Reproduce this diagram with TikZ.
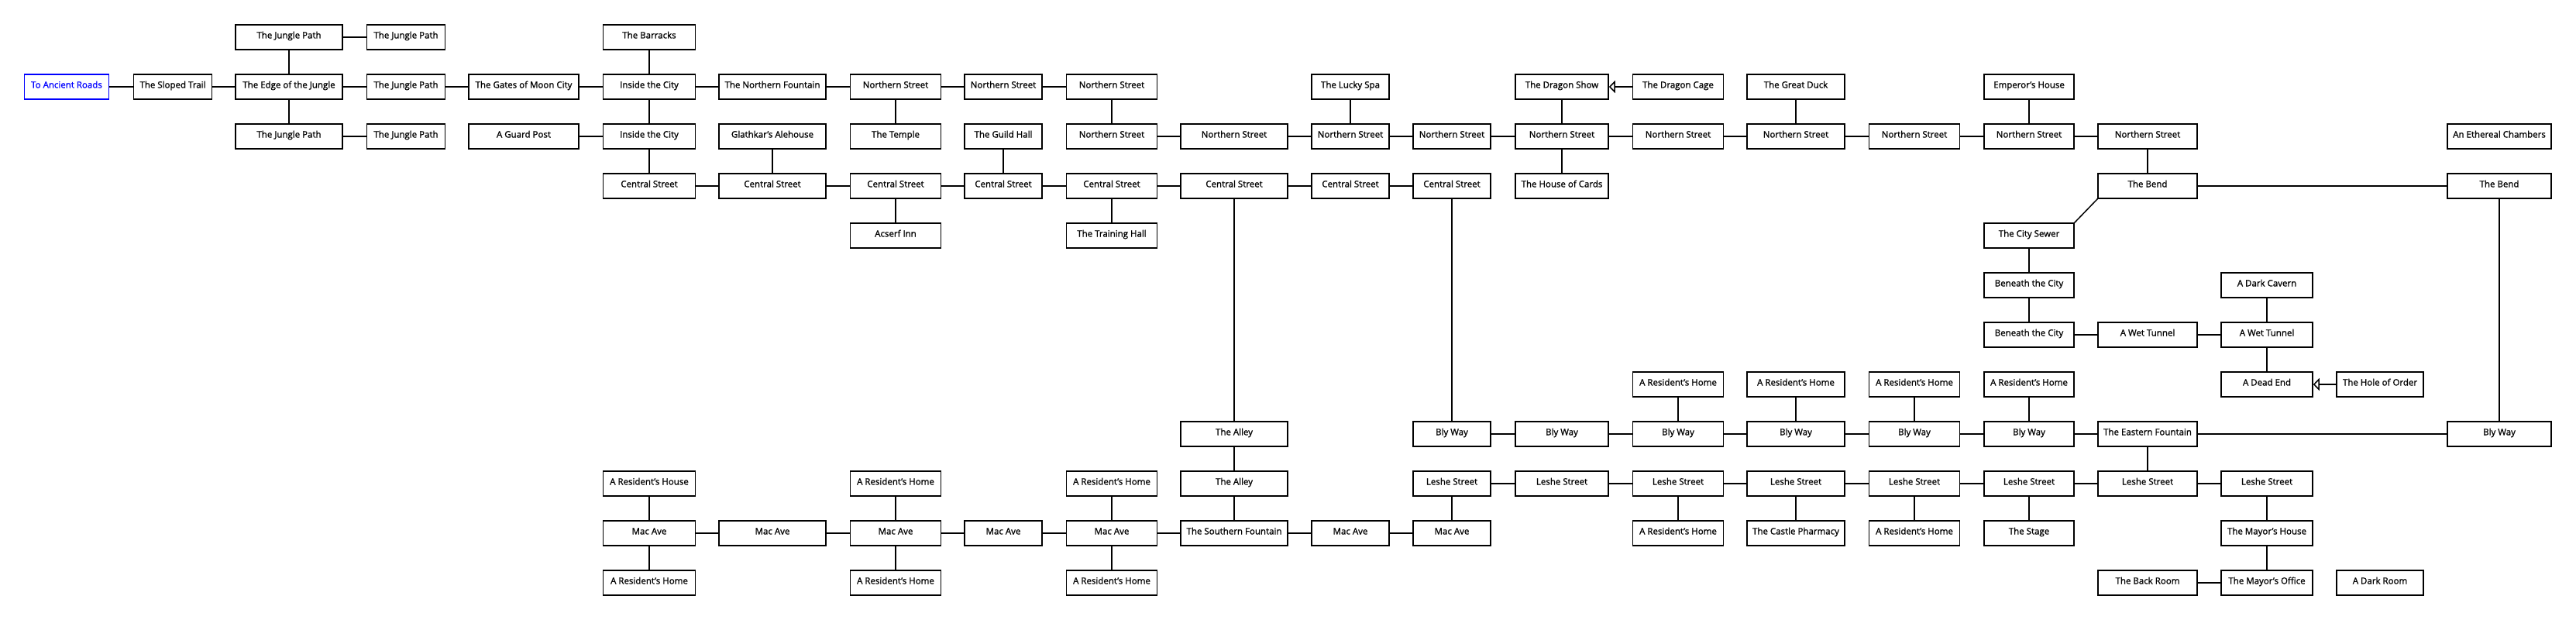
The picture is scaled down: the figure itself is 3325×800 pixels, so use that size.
\documentclass[tikz,border=0pt]{standalone}
\usepackage{fontspec}
\setmainfont{Open Sans}[FakeBold=1.2]
\usetikzlibrary{arrows.meta}

\begin{document}
\begin{tikzpicture}[x=1pt, y=-1pt, line width=1.5pt,
  room/.style={draw, minimum width=#1pt, minimum height=32pt, inner sep=0pt,
    text height=9pt, text depth=6pt, font=\fontsize{11.5}{13}\selectfont},
  exit/.style={room=#1, draw=blue, text=blue},
  oneway/.style={-{Triangle[open, length=8pt, width=16pt]}}]
  \useasboundingbox (0,0) rectangle (3325,800);

  \node[room=138] (jpA) at (373,48) {The Jungle Path};
  \node[room=101] (jpB) at (524,48) {The Jungle Path};
  \node[room=119] (barracks) at (838,48) {The Barracks};

  \node[exit=109] (ancient) at (86,112) {To Ancient Roads};
  \node[room=101] (sloped) at (223,112) {The Sloped Trail};
  \node[room=138] (edge) at (373,112) {The Edge of the Jungle};
  \node[room=101] (jpC) at (524,112) {The Jungle Path};
  \node[room=142] (gates) at (676,112) {The Gates of Moon City};
  \node[room=119] (insideA) at (838,112) {Inside the City};
  \node[room=138] (nfount) at (997,112) {The Northern Fountain};
  \node[room=117] (nsA) at (1156,112) {Northern Street};
  \node[room=100] (nsB) at (1295,112) {Northern Street};
  \node[room=117] (nsC) at (1435,112) {Northern Street};
  \node[room=100] (spa) at (1743,112) {The Lucky Spa};
  \node[room=120] (dshow) at (2016,112) {The Dragon Show};
  \node[room=117] (dcage) at (2166,112) {The Dragon Cage};
  \node[room=126] (duck) at (2318,112) {The Great Duck};
  \node[room=116] (emperor) at (2619,112) {Emperor's House};

  \node[room=138] (jpD) at (373,176) {The Jungle Path};
  \node[room=101] (jpE) at (524,176) {The Jungle Path};
  \node[room=142] (guard) at (676,176) {A Guard Post};
  \node[room=119] (insideB) at (838,176) {Inside the City};
  \node[room=138] (alehouse) at (997,176) {Glathkar's Alehouse};
  \node[room=117] (temple) at (1156,176) {The Temple};
  \node[room=100] (guild) at (1295,176) {The Guild Hall};
  \node[room=117] (nsD) at (1435,176) {Northern Street};
  \node[room=138] (nsE) at (1593,176) {Northern Street};
  \node[room=100] (nsF) at (1743,176) {Northern Street};
  \node[room=100] (nsG) at (1874,176) {Northern Street};
  \node[room=120] (nsH) at (2016,176) {Northern Street};
  \node[room=117] (nsI) at (2166,176) {Northern Street};
  \node[room=126] (nsJ) at (2318,176) {Northern Street};
  \node[room=117] (nsK) at (2471,176) {Northern Street};
  \node[room=116] (nsL) at (2619,176) {Northern Street};
  \node[room=128] (nsM) at (2772,176) {Northern Street};
  \node[room=134] (ethereal) at (3226,176) {An Ethereal Chambers};

  \node[room=119] (csA) at (838,240) {Central Street};
  \node[room=138] (csB) at (997,240) {Central Street};
  \node[room=117] (csC) at (1156,240) {Central Street};
  \node[room=100] (csD) at (1295,240) {Central Street};
  \node[room=117] (csE) at (1435,240) {Central Street};
  \node[room=138] (csF) at (1593,240) {Central Street};
  \node[room=100] (csG) at (1743,240) {Central Street};
  \node[room=100] (csH) at (1874,240) {Central Street};
  \node[room=120] (cards) at (2016,240) {The House of Cards};
  \node[room=128] (bendA) at (2772,240) {The Bend};
  \node[room=134] (bendB) at (3226,240) {The Bend};

  \node[room=117] (acserf) at (1156,304) {Acserf Inn};
  \node[room=117] (training) at (1435,304) {The Training Hall};
  \node[room=116] (sewer) at (2619,304) {The City Sewer};

  \node[room=116] (beneathA) at (2619,368) {Beneath the City};
  \node[room=118] (cavern) at (2926,368) {A Dark Cavern};

  \node[room=116] (beneathB) at (2619,432) {Beneath the City};
  \node[room=128] (tunnelA) at (2772,432) {A Wet Tunnel};
  \node[room=118] (tunnelB) at (2926,432) {A Wet Tunnel};

  \node[room=117] (homeA) at (2166,496) {A Resident's Home};
  \node[room=126] (homeB) at (2318,496) {A Resident's Home};
  \node[room=117] (homeC) at (2471,496) {A Resident's Home};
  \node[room=116] (homeD) at (2619,496) {A Resident's Home};
  \node[room=118] (deadend) at (2926,496) {A Dead End};
  \node[room=112] (hole) at (3072,496) {The Hole of Order};

  \node[room=138] (alleyA) at (1593,560) {The Alley};
  \node[room=100] (bwA) at (1874,560) {Bly Way};
  \node[room=120] (bwB) at (2016,560) {Bly Way};
  \node[room=117] (bwC) at (2166,560) {Bly Way};
  \node[room=126] (bwD) at (2318,560) {Bly Way};
  \node[room=117] (bwE) at (2471,560) {Bly Way};
  \node[room=116] (bwF) at (2619,560) {Bly Way};
  \node[room=128] (efount) at (2772,560) {The Eastern Fountain};
  \node[room=134] (bwG) at (3226,560) {Bly Way};

  \node[room=119] (house) at (838,624) {A Resident's House};
  \node[room=117] (homeE) at (1156,624) {A Resident's Home};
  \node[room=117] (homeF) at (1435,624) {A Resident's Home};
  \node[room=138] (alleyB) at (1593,624) {The Alley};
  \node[room=100] (lsA) at (1874,624) {Leshe Street};
  \node[room=120] (lsB) at (2016,624) {Leshe Street};
  \node[room=117] (lsC) at (2166,624) {Leshe Street};
  \node[room=126] (lsD) at (2318,624) {Leshe Street};
  \node[room=117] (lsE) at (2471,624) {Leshe Street};
  \node[room=116] (lsF) at (2619,624) {Leshe Street};
  \node[room=128] (lsG) at (2772,624) {Leshe Street};
  \node[room=118] (lsH) at (2926,624) {Leshe Street};

  \node[room=119] (maA) at (838,688) {Mac Ave};
  \node[room=138] (maB) at (997,688) {Mac Ave};
  \node[room=117] (maC) at (1156,688) {Mac Ave};
  \node[room=100] (maD) at (1295,688) {Mac Ave};
  \node[room=117] (maE) at (1435,688) {Mac Ave};
  \node[room=138] (sfount) at (1593,688) {The Southern Fountain};
  \node[room=100] (maF) at (1743,688) {Mac Ave};
  \node[room=100] (maG) at (1874,688) {Mac Ave};
  \node[room=117] (homeG) at (2166,688) {A Resident's Home};
  \node[room=126] (pharmacy) at (2318,688) {The Castle Pharmacy};
  \node[room=117] (homeH) at (2471,688) {A Resident's Home};
  \node[room=116] (stage) at (2619,688) {The Stage};
  \node[room=118] (mhouse) at (2926,688) {The Mayor's House};

  \node[room=119] (homeI) at (838,752) {A Resident's Home};
  \node[room=117] (homeJ) at (1156,752) {A Resident's Home};
  \node[room=117] (homeK) at (1435,752) {A Resident's Home};
  \node[room=128] (backroom) at (2772,752) {The Back Room};
  \node[room=118] (office) at (2926,752) {The Mayor's Office};
  \node[room=112] (darkroom) at (3072,752) {A Dark Room};

  \draw (jpA) -- (jpB);
  \draw (jpA) -- (edge) -- (jpD) -- (jpE);
  \draw (barracks) -- (insideA) -- (insideB) -- (csA);
  \draw (ancient) -- (sloped) -- (edge) -- (jpC) -- (gates) -- (insideA) -- (nfount) -- (nsA) -- (nsB) -- (nsC) -- (nsD);
  \draw (nsD) -- (nsE) -- (nsF) -- (nsG) -- (nsH) -- (nsI) -- (nsJ) -- (nsK) -- (nsL) -- (nsM) -- (bendA) -- (bendB) -- (bwG);
  \draw (guard) -- (insideB);
  \draw (dshow) -- (nsH) -- (cards);
  \draw[oneway] (dcage) -- (dshow);
  \draw (csA) -- (csB) -- (csC) -- (csD) -- (csE) -- (csF) -- (csG) -- (csH);
  \draw (csF) -- (alleyA) -- (alleyB) -- (sfount);
  \draw (csH) -- (bwA) -- (bwB) -- (bwC) -- (bwD) -- (bwE) -- (bwF) -- (efount) -- (bwG);
  \draw (sewer.north east) -- (bendA.south west);
  \draw (sewer) -- (beneathA) -- (beneathB) -- (tunnelA) -- (tunnelB) -- (deadend);
  \draw[oneway] (hole) -- (deadend);
  \draw (lsA) -- (lsB) -- (lsC) -- (lsD) -- (lsE) -- (lsF) -- (lsG) -- (lsH) -- (mhouse) -- (office) -- (backroom);
  \draw (maA) -- (maB) -- (maC) -- (maD) -- (maE) -- (sfount) -- (maF) -- (maG);
  \foreach \a/\b in {nsA/temple, alehouse/csB, guild/csD, spa/nsF, duck/nsJ, emperor/nsL,
      csC/acserf, csE/training, cavern/tunnelB, homeA/bwC, homeB/bwD, homeC/bwE, homeD/bwF,
      efount/lsG, lsA/maG, lsC/homeG, lsD/pharmacy, lsE/homeH, lsF/stage,
      house/maA, maA/homeI, homeE/maC, maC/homeJ, homeF/maE, maE/homeK}
    \draw (\a) -- (\b);
\end{tikzpicture}
\end{document}
